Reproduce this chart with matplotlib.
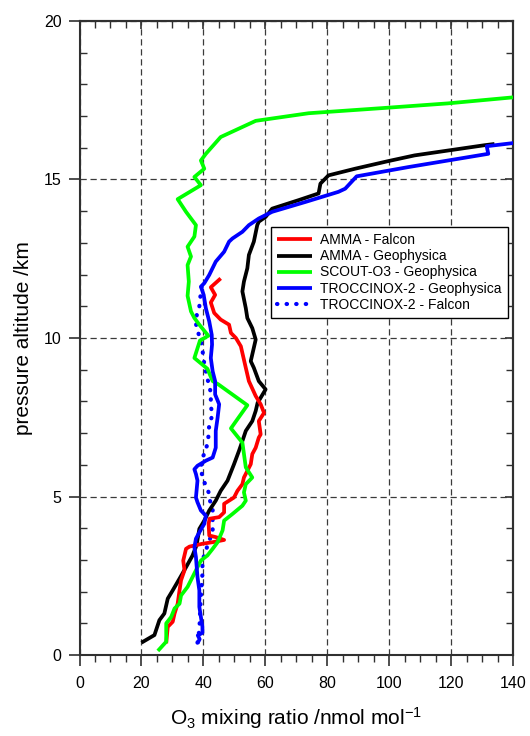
import matplotlib
matplotlib.use("Agg")
import matplotlib.pyplot as plt
from matplotlib.ticker import MultipleLocator

plt.rcParams['font.family'] = ['Liberation Sans', 'DejaVu Sans']
plt.rcParams['mathtext.fontset'] = 'custom'
plt.rcParams['mathtext.rm'] = 'Liberation Sans'
plt.rcParams['mathtext.it'] = 'Liberation Sans:italic'
plt.rcParams['mathtext.bf'] = 'Liberation Sans:bold'
plt.rcParams['mathtext.default'] = 'regular'

# ---- data: (O3 mixing ratio, pressure altitude) ----
amma_falcon_o3 = [28.0, 28.5, 30.1, 30.7, 31.7, 32.3, 32.8, 33.9, 33.5, 34.4, 35.5, 39.7, 43.0, 46.7, 44.0,
                  41.9, 41.7, 42.0, 45.1, 46.7, 46.7, 49.9, 51.0, 52.6, 53.1, 54.2, 55.3, 55.8, 56.9, 57.9,
                  58.5, 57.9, 59.6, 58.5, 56.9, 54.7, 53.7, 52.1, 50.5, 48.9, 48.3, 45.6, 43.5, 42.4, 43.8,
                  42.4, 45.6]
amma_falcon_alt = [0.37, 0.89, 1.05, 1.31, 1.62, 2.04, 2.36, 2.67, 2.98, 3.35, 3.42, 3.51, 3.56, 3.63, 3.72,
                   3.77, 4.14, 4.30, 4.35, 4.50, 4.77, 4.97, 5.18, 5.39, 5.60, 5.81, 6.02, 6.34, 6.54, 6.86,
                   6.96, 7.38, 7.64, 7.91, 8.17, 8.64, 9.06, 9.74, 10.0, 10.16, 10.42, 10.58, 10.79, 11.12, 11.36,
                   11.60, 11.88]

amma_geo_o3 = [20.0, 24.2, 25.8, 27.4, 28.5, 30.1, 32.3, 34.4, 36.5, 37.8, 38.7, 40.3, 41.9, 44.0, 45.6,
               47.8, 49.9, 51.5, 52.6, 53.7, 55.8, 56.9, 57.5, 60.1, 57.9, 56.3, 55.3, 56.9, 55.8, 54.2,
               53.7, 52.6, 53.1, 54.2, 54.7, 56.3, 57.4, 57.9, 60.1, 62.2, 70.8, 77.2, 77.8, 80.4, 89.0,
               99.7, 108.2, 130.7, 134.0]
amma_geo_alt = [0.39, 0.63, 1.10, 1.31, 1.78, 2.04, 2.41, 2.77, 3.14, 3.46, 3.98, 4.24, 4.56, 4.87, 5.18,
                5.50, 6.02, 6.44, 6.75, 7.07, 7.38, 7.70, 7.95, 8.38, 8.64, 9.06, 9.27, 9.95, 10.31, 10.63,
                10.94, 11.47, 11.78, 12.20, 12.62, 13.04, 13.56, 13.67, 13.82, 14.08, 14.35, 14.56, 14.87, 15.13, 15.34,
                15.58, 15.76, 16.08, 16.12]

scout_geo_o3 = [25.3, 28.0, 28.0, 29.6, 30.7, 32.3, 32.8, 34.9, 36.5, 38.1, 39.2, 41.3, 43.0, 44.6, 46.2,
                46.7, 49.4, 52.6, 53.7, 53.1, 53.7, 55.8, 53.7, 52.6, 48.9, 51.0, 54.2, 44.8, 43.0, 41.3,
                37.1, 38.9, 41.6, 38.7, 37.1, 36.0, 34.9, 35.3, 34.9, 36.0, 34.9, 37.1, 37.6, 36.0, 34.4,
                31.7, 39.2, 37.1, 40.3, 39.2, 40.8, 45.6, 56.9, 74.0, 97.5, 118.9, 141.0]
scout_geo_alt = [0.13, 0.42, 1.00, 1.20, 1.47, 1.62, 1.88, 2.15, 2.46, 2.77, 2.98, 3.14, 3.35, 3.56, 3.93,
                 4.24, 4.45, 4.71, 4.87, 5.13, 5.39, 5.60, 5.92, 6.70, 7.15, 7.44, 7.88, 8.54, 8.64, 9.03,
                 9.37, 9.92, 10.07, 10.42, 10.63, 10.84, 11.33, 11.78, 12.30, 12.57, 12.88, 13.20, 13.56, 13.77, 13.98,
                 14.38, 14.82, 15.08, 15.34, 15.60, 15.81, 16.34, 16.85, 17.09, 17.25, 17.40, 17.60]

trocc_geo_o3 = [38.1, 38.8, 38.2, 39.7, 39.7, 39.2, 38.7, 38.7, 38.1, 37.6, 37.1, 37.6, 38.7, 40.3, 40.8,
                39.2, 38.1, 37.6, 37.8, 38.1, 37.6, 37.1, 38.1, 40.8, 43.0, 44.0, 44.0, 44.6, 45.1, 43.8,
                43.8, 43.0, 42.4, 42.8, 42.7, 41.9, 40.8, 40.1, 39.2, 40.3, 41.9, 44.0, 46.7, 48.3, 49.4,
                52.6, 54.7, 57.9, 62.2, 72.9, 83.6, 85.8, 89.5, 106.1, 132.0, 131.5, 141.0]
trocc_geo_alt = [0.37, 0.50, 0.62, 0.70, 0.89, 1.20, 1.52, 2.04, 2.46, 3.09, 3.40, 3.67, 3.87, 4.14, 4.40,
                 4.56, 4.82, 4.97, 5.18, 5.50, 5.71, 5.86, 5.97, 6.13, 6.23, 6.54, 7.07, 7.49, 7.91, 8.22,
                 8.64, 8.95, 9.37, 9.79, 10.10, 10.52, 10.94, 11.36, 11.62, 11.73, 11.99, 12.41, 12.72, 13.04, 13.14,
                 13.35, 13.56, 13.77, 13.98, 14.29, 14.61, 14.71, 15.10, 15.39, 15.81, 16.05, 16.16]

trocc_falcon_o3 = [38.1, 38.5, 38.8, 39.0, 39.3, 39.7, 39.7, 40.8, 41.9, 43.0, 43.0, 43.0, 41.9, 41.7, 40.8,
                   39.7, 39.2, 39.7, 40.8, 41.6, 41.9, 43.0, 42.2, 42.6, 41.5, 40.8, 39.9, 39.7, 38.9, 37.7,
                   37.6, 38.7, 39.2, 39.7]
trocc_falcon_alt = [0.39, 0.63, 1.00, 1.50, 2.00, 2.57, 2.98, 3.30, 3.61, 3.87, 4.29, 4.66, 4.92, 5.13, 5.34,
                    5.60, 5.90, 6.23, 6.44, 6.86, 7.28, 7.59, 7.91, 8.20, 8.64, 8.95, 9.40, 9.69, 10.00, 10.35,
                    10.63, 11.00, 11.45, 11.78]

labels = ["AMMA - Falcon", "AMMA - Geophysica", "SCOUT-O3 - Geophysica",
          "TROCCINOX-2 - Geophysica", "TROCCINOX-2 - Falcon"]

fig = plt.figure(figsize=(5.30, 7.36), dpi=100)
ax = fig.add_axes([0.150, 0.110, 0.818, 0.8615])

lw = 2.7
ax.plot(amma_falcon_o3, amma_falcon_alt, color='#ff0000', lw=lw, label=labels[0], zorder=4,
        solid_joinstyle='round', solid_capstyle='butt')
ax.plot(amma_geo_o3, amma_geo_alt, color='#000000', lw=lw, label=labels[1], zorder=3,
        solid_joinstyle='round', solid_capstyle='butt')
ax.plot(scout_geo_o3, scout_geo_alt, color='#00ff00', lw=lw, label=labels[2], zorder=5,
        solid_joinstyle='round', solid_capstyle='butt')
ax.plot(trocc_geo_o3, trocc_geo_alt, color='#0000ff', lw=lw, label=labels[3], zorder=6,
        solid_joinstyle='round', solid_capstyle='butt')
ax.plot(trocc_falcon_o3, trocc_falcon_alt, color='#0000ff', lw=3.0, label=labels[4], zorder=2,
        linestyle=(0, (0.1, 2.2)), dash_capstyle='round')

ax.set_xlim(0, 140)
ax.set_ylim(0, 20)
ax.xaxis.set_major_locator(MultipleLocator(20))
ax.xaxis.set_minor_locator(MultipleLocator(5))
ax.yaxis.set_major_locator(MultipleLocator(5))
ax.yaxis.set_minor_locator(MultipleLocator(1))

ax.grid(True, which='major', color='#3a3a3a', linestyle=(0, (5, 3)), lw=0.9, zorder=1)
ax.set_axisbelow(True)

for s in ax.spines.values():
    s.set_linewidth(1.5)
    s.set_color('#303030')

ax.tick_params(axis='x', which='major', direction='out', length=8, width=1.2, color='#303030',
               labelsize=11.5, pad=7, top=False)
ax.tick_params(axis='x', which='minor', direction='out', length=5, width=1.0, color='#303030', top=False)
ax.tick_params(axis='y', which='major', direction='out', length=8, width=1.2, color='#303030',
               labelsize=11.5, pad=5, right=False)
ax.tick_params(axis='y', which='minor', direction='in', length=5, width=1.0, color='#303030', right=False)

secx = ax.secondary_xaxis('top')
secx.xaxis.set_major_locator(MultipleLocator(20))
secx.xaxis.set_minor_locator(MultipleLocator(5))
secx.tick_params(axis='x', which='both', direction='in', labeltop=False, color='#303030')
secx.tick_params(axis='x', which='major', length=6, width=1.2)
secx.tick_params(axis='x', which='minor', length=5, width=1.0)
secx.spines['top'].set_linewidth(1.5)
secx.spines['top'].set_color('#303030')

secy = ax.secondary_yaxis('right')
secy.yaxis.set_major_locator(MultipleLocator(5))
secy.yaxis.set_minor_locator(MultipleLocator(1))
secy.tick_params(axis='y', which='both', direction='in', labelright=False, color='#303030')
secy.tick_params(axis='y', which='major', length=6, width=1.2)
secy.tick_params(axis='y', which='minor', length=5, width=1.0)
secy.spines['right'].set_linewidth(1.5)
secy.spines['right'].set_color('#303030')

ax.set_xlabel(r"O$_3$ mixing ratio /nmol mol$^{-1}$", fontsize=15, labelpad=10)
ax.set_ylabel("pressure altitude /km", fontsize=15, labelpad=8)

leg = ax.legend(loc='upper left', bbox_to_anchor=(0.441, 0.675), fontsize=10, frameon=True,
                fancybox=False, framealpha=1, edgecolor='black', handlelength=2.5,
                handletextpad=0.6, labelspacing=0.15, borderpad=0.45, borderaxespad=0)
leg.get_frame().set_linewidth(1.0)
leg.set_zorder(10)

fig.savefig("out.png", dpi=100)
